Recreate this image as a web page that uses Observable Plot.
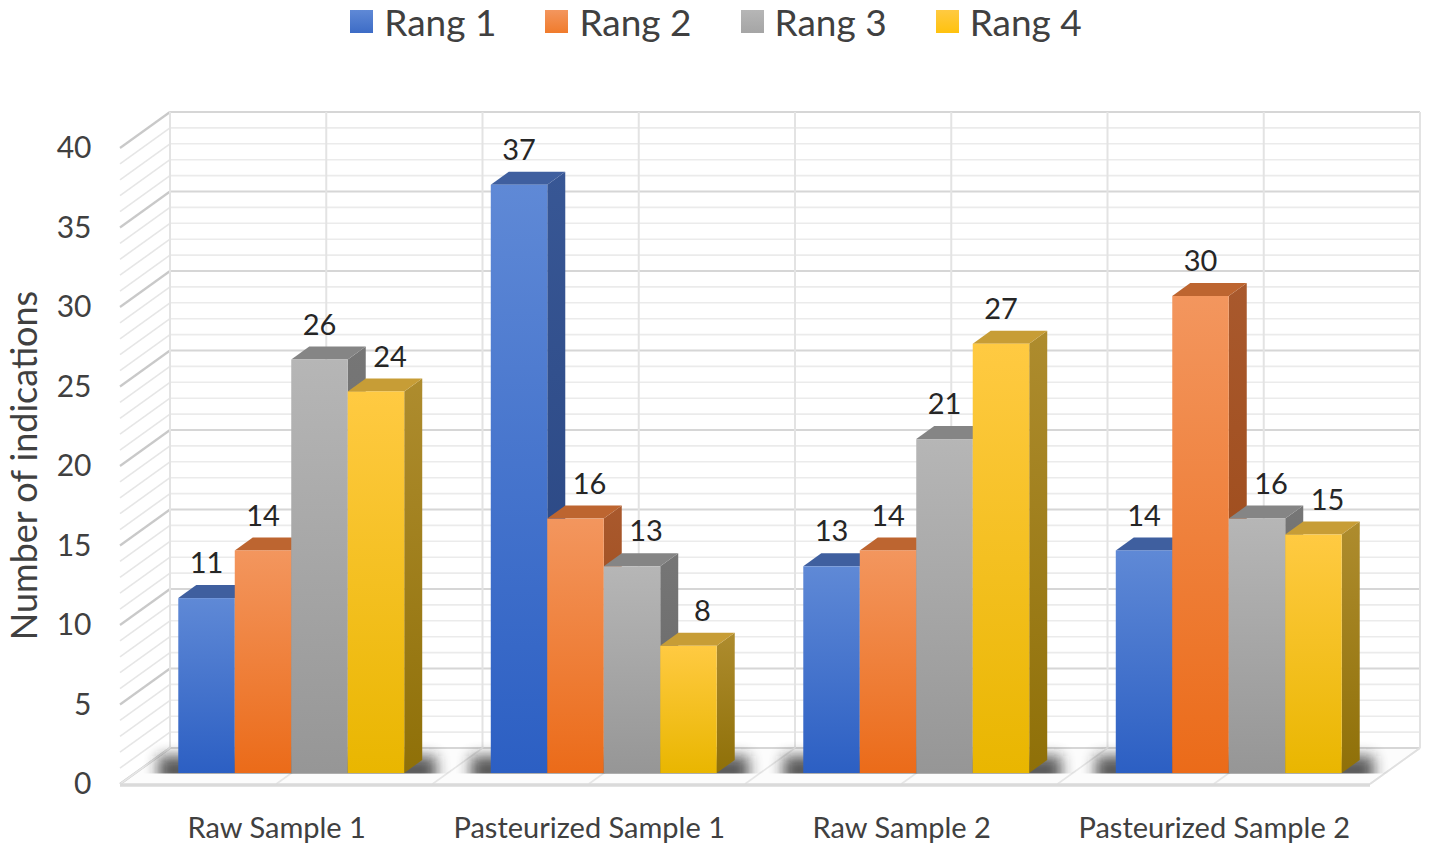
<!DOCTYPE html>
<html><head><meta charset="utf-8">
<script src="https://cdn.jsdelivr.net/npm/d3@7"></script>
<script src="https://cdn.jsdelivr.net/npm/@observablehq/plot@0.6"></script>
<style>
html,body{margin:0;padding:0;background:#fff;}
#legend{height:48px;display:flex;justify-content:center;align-items:center;gap:49px;font-family:Lato,"Open Sans",sans-serif;font-size:37px;color:#404040;padding-left:2px;padding-bottom:5px;box-sizing:border-box;}
.item{display:flex;align-items:center;gap:11px;}
.sw{width:23px;height:23px;display:inline-block;}
#chart svg{display:block;}
</style></head><body>
<div id="legend"></div><div id="chart"></div>
<script>
// ---- data ----
const categories = ["Raw Sample 1", "Pasteurized Sample 1", "Raw Sample 2", "Pasteurized Sample 2"];
const series = ["Rang 1", "Rang 2", "Rang 3", "Rang 4"];
const rang1 = [11, 37, 13, 14];
const rang2 = [14, 16, 14, 30];
const rang3 = [26, 13, 21, 16];
const rang4 = [24, 8, 27, 15];
const yTicks = [0, 5, 10, 15, 20, 25, 30, 35, 40];
const yTitle = "Number of indications";

// ---- styles ----
const palette = {
  "Rang 1": {legend:"#3d6cc6", front:["#5f89d6","#2c5fc3"], top:"#3f5f9f", side:["#385795","#26427d"]},
  "Rang 2": {legend:"#f07b2c", front:["#f3965e","#eb6b19"], top:"#bd6530", side:["#a9592d","#984512"]},
  "Rang 3": {legend:"#a5a5a5", front:["#b6b6b6","#969696"], top:"#858585", side:["#767676","#666666"]},
  "Rang 4": {legend:"#ffc20e", front:["#ffca42","#e9b600"], top:"#c79d36", side:["#ae8c2e","#8f7008"]}
};
const BACK = [35, -25];   // back wall offset from bar front plane (px)
const FRONT = [-15, 11];  // front floor edge offset from bar front plane (px)
const DEPTH = [18, -13];  // bar depth (px)
const GROUP = 0.723;      // fraction of band used by a group of bars
const LABEL_SHIFT = 14;   // label nudge when the left neighbour is taller
const FONT = "Lato, 'Open Sans', sans-serif";

const values = [rang1, rang2, rang3, rang4];
const table = categories.flatMap((c, i) => series.map((s, j) => ({category: c, series: s, j, value: values[j][i]})));

// ---- legend ----
const legend = d3.select("#legend");
series.forEach(s => {
  const it = legend.append("div").attr("class", "item");
  it.append("span").attr("class", "sw").style("background", `linear-gradient(${palette[s].front[0]}, ${palette[s].legend})`);
  it.append("span").text(s);
});

function bandwidthOf(x) {
  if (x.bandwidth) return x.bandwidth();
  const r = x.range ? x.range() : [135, 1385];
  return (r[1] - r[0]) / categories.length;
}
const pts = a => a.map(p => p.join(",")).join(" ");

// walls, floor, gridlines
function frame(index, scales) {
  const {x, y} = scales;
  const bw = bandwidthOf(x);
  const xa = x(categories[0]), xb = x(categories[categories.length - 1]) + bw;
  const g = d3.create("svg:g");
  const bx0 = xa + BACK[0], bx1 = xb + BACK[0];
  const byTop = y(40) + BACK[1], byBot = y(0) + BACK[1];
  const fy = y(0) + FRONT[1];
  g.append("rect").attr("x", bx0).attr("y", byTop).attr("width", bx1 - bx0).attr("height", byBot - byTop).attr("fill", "#fff");
  g.append("polygon").attr("points", pts([[bx0, byBot], [bx1, byBot], [xb + FRONT[0], fy], [xa + FRONT[0], fy]]))
    .attr("fill", "#fcfcfc");
  const grid = d3.range(0, 41);
  grid.forEach(v => {
    const major = v % 5 === 0;
    const yb = y(v) + BACK[1], yf = y(v) + FRONT[1];
    g.append("line").attr("x1", bx0).attr("x2", bx1).attr("y1", yb).attr("y2", yb)
      .attr("stroke", major ? "#d6d6d6" : "#ebebeb").attr("stroke-width", major ? 2.2 : 1.6);
    g.append("line").attr("x1", bx0).attr("y1", yb).attr("x2", xa + FRONT[0]).attr("y2", yf)
      .attr("stroke", major ? "#c9c9c9" : "#e6e6e6").attr("stroke-width", major ? 2.2 : 1.6);
  });
  for (let k = 0; k <= categories.length * 2; k++) {
    const xp = xa + k * bw / 2;
    g.append("line").attr("x1", xp + BACK[0]).attr("x2", xp + BACK[0]).attr("y1", byTop).attr("y2", byBot)
      .attr("stroke", "#e3e3e3").attr("stroke-width", 2);
    g.append("line").attr("x1", xp + BACK[0]).attr("y1", byBot).attr("x2", xp + FRONT[0]).attr("y2", fy)
      .attr("stroke", "#e6e6e6").attr("stroke-width", 1.6);
  }
  g.append("line").attr("x1", bx1).attr("y1", byBot).attr("x2", xb + FRONT[0]).attr("y2", fy)
    .attr("stroke", "#e0e0e0").attr("stroke-width", 1.6);
  g.append("line").attr("x1", xa + FRONT[0]).attr("x2", xb + FRONT[0]).attr("y1", fy + 1).attr("y2", fy + 1)
    .attr("stroke", "#dadada").attr("stroke-width", 3.5);
  return g.node();
}

// 3D bars with shadows and value labels
function bars3d(index, scales) {
  const {x, y} = scales;
  const bw = bandwidthOf(x);
  const groupW = bw * GROUP;
  const barW = groupW / series.length;
  const g = d3.create("svg:g");
  const defs = g.append("defs");
  series.forEach((s, j) => {
    [["front", palette[s].front], ["side", palette[s].side]].forEach(([k, c]) => {
      const lg = defs.append("linearGradient").attr("id", `g-${k}-${j}`).attr("x1", 0).attr("x2", 0).attr("y1", 0).attr("y2", 1);
      lg.append("stop").attr("offset", "0%").attr("stop-color", c[0]);
      lg.append("stop").attr("offset", "100%").attr("stop-color", c[1]);
    });
  });
  const f = defs.append("filter").attr("id", "shadow-blur").attr("x", "-20%").attr("y", "-100%").attr("width", "140%").attr("height", "300%");
  f.append("feGaussianBlur").attr("stdDeviation", 7);
  const y0 = y(0);
  defs.append("clipPath").attr("id", "floor-clip").append("rect")
    .attr("x", 0).attr("y", 0).attr("width", 3000).attr("height", y0 + 0.5);
  const shadows = g.append("g").attr("clip-path", "url(#floor-clip)");
  categories.forEach(c => {
    const gx = x(c) + (bw - groupW) / 2;
    shadows.append("rect").attr("x", gx - 20).attr("y", y0 - 17).attr("width", groupW + DEPTH[0] + 34).attr("height", 28)
      .attr("fill", "#222").attr("opacity", 0.75).attr("filter", "url(#shadow-blur)");
  });
  const labels = [];
  categories.forEach(c => {
    const gx = x(c) + (bw - groupW) / 2;
    const rows = table.filter(d => d.category === c);
    rows.forEach((d, k) => {
      const x0 = gx + d.j * barW, x1 = x0 + barW, yt = y(d.value);
      const p = palette[d.series];
      g.append("polygon").attr("points", pts([[x1, yt], [x1 + DEPTH[0], yt + DEPTH[1]], [x1 + DEPTH[0], y0 + DEPTH[1]], [x1, y0]]))
        .attr("fill", `url(#g-side-${d.j})`);
      g.append("polygon").attr("points", pts([[x0, yt], [x0 + DEPTH[0], yt + DEPTH[1]], [x1 + DEPTH[0], yt + DEPTH[1]], [x1, yt]]))
        .attr("fill", p.top);
      g.append("rect").attr("x", x0).attr("y", yt).attr("width", barW).attr("height", y0 - yt)
        .attr("fill", `url(#g-front-${d.j})`);
      const nudge = k > 0 && rows[k - 1].value > d.value ? LABEL_SHIFT : 0;
      labels.push([(x0 + x1) / 2 + nudge, yt - 35, d.value]);
    });
  });
  labels.forEach(([lx, ly, v]) => {
    g.append("text").attr("x", lx).attr("y", ly).attr("dy", "0.35em").attr("text-anchor", "middle")
      .attr("font-family", FONT).attr("font-size", 29).attr("fill", "#262626").text(v);
  });
  return g.node();
}

const chart = Plot.plot({
  width: 1430,
  height: 803,
  marginLeft: 135,
  marginRight: 45,
  marginTop: 89,
  marginBottom: 78,
  style: {fontFamily: FONT, background: "#fff", overflow: "visible"},
  x: {type: "band", domain: categories, padding: 0, round: false, axis: null},
  y: {domain: [0, 40], axis: null},
  marks: [
    frame,
    bars3d,
    Plot.text(yTicks, {y: d => d, frameAnchor: "left", textAnchor: "end", dx: -44, dy: 11, text: d => String(d), fontSize: 30, fill: "#404040"}),
    Plot.text(categories, {x: d => d, frameAnchor: "bottom", dx: -15, dy: 55, lineAnchor: "middle", text: d => d, fontSize: 29, fill: "#404040"}),
    Plot.text([yTitle], {frameAnchor: "left", textAnchor: "middle", rotate: -90, dx: -110, dy: 10, text: d => d, fontSize: 36, fill: "#404040"})
  ]
});
document.getElementById("chart").appendChild(chart);
</script>
</body></html>
